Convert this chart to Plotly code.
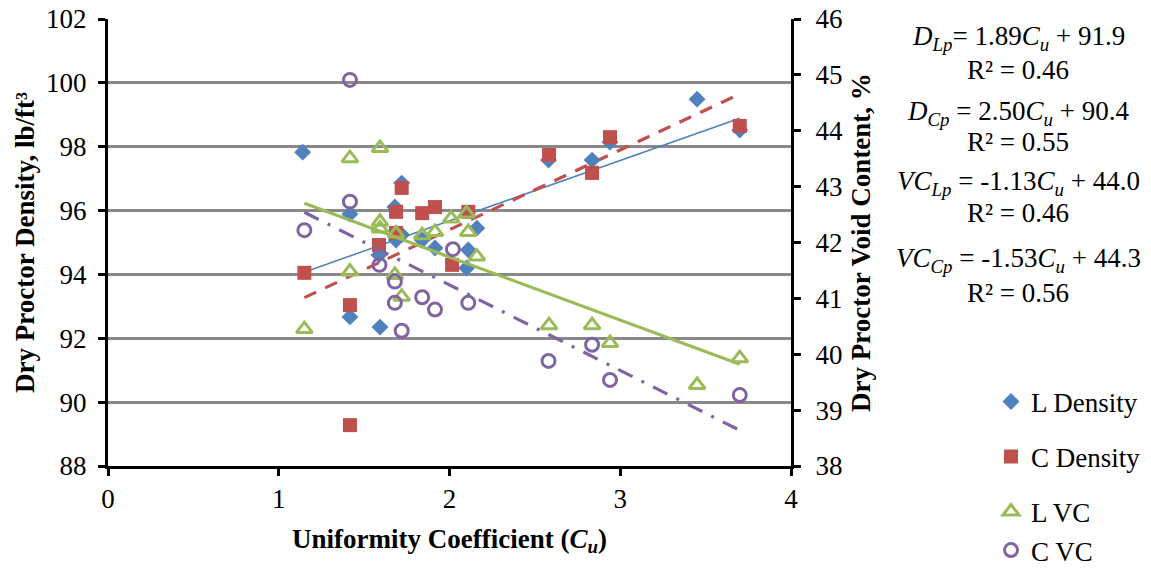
import plotly.graph_objects as go

# ---- data ----
l_den_cu = [1.14, 1.417, 1.417, 1.593, 1.587, 1.68, 1.72, 1.72, 1.687, 1.84, 1.915, 2.11, 2.16, 2.10, 2.58, 2.835, 2.94, 3.45, 3.70]
l_den = [97.83, 95.89, 92.67, 92.35, 94.61, 96.11, 96.86, 95.24, 95.08, 95.08, 94.83, 94.77, 95.45, 94.20, 97.58, 97.58, 98.15, 99.49, 98.52]

c_den_cu = [1.15, 1.417, 1.417, 1.587, 1.687, 1.687, 1.72, 1.84, 1.915, 2.015, 2.11, 2.583, 2.835, 2.94, 3.70]
c_den = [94.05, 93.04, 89.28, 94.92, 95.30, 95.96, 96.71, 95.92, 96.11, 94.30, 95.96, 97.74, 97.18, 98.30, 98.65]

l_vc_cu = [1.15, 1.417, 1.417, 1.593, 1.593, 1.593, 1.687, 1.68, 1.72, 1.84, 1.915, 2.01, 2.10, 2.11, 2.16, 2.583, 2.835, 2.94, 3.45, 3.70]
l_vc = [40.45, 43.51, 41.48, 43.69, 42.37, 42.25, 42.16, 41.42, 41.03, 42.13, 42.19, 42.43, 42.52, 42.19, 41.75, 40.52, 40.52, 40.20, 39.45, 39.93]

c_vc_cu = [1.15, 1.417, 1.417, 1.59, 1.68, 1.68, 1.72, 1.84, 1.915, 2.02, 2.11, 2.58, 2.835, 2.94, 3.70]
c_vc = [42.22, 44.91, 42.73, 41.60, 41.30, 40.92, 40.42, 41.02, 40.80, 41.88, 40.92, 39.88, 40.17, 39.54, 39.27]

# trendline coefficients (as printed on the chart)
fit_names = ["L Density", "C Density", "L VC", "C VC"]
fit_labels = ["<i>D<sub>Lp</sub></i>=", "<i>D<sub>Cp</sub></i> =", "<i>VC<sub>Lp</sub></i> =", "<i>VC<sub>Cp</sub></i> ="]
fit_slope = [1.89, 2.50, -1.13, -1.53]
fit_icept = [91.9, 90.4, 44.0, 44.3]
fit_r2 = [0.46, 0.55, 0.46, 0.56]

FONT = "Liberation Serif, Times New Roman, serif"
BLUE, RED, GREEN, PURPLE = "#4F81BD", "#C0504D", "#9BBB59", "#8064A2"

FW, FH = 1151, 575
L, R, T, B = 108, 791, 19, 466   # plot area in pixels
def fx(x):
    return x / FW
def fy(y):
    return 1 - y / FH

fig = go.Figure()

def trend(cu, k, yaxis, color, width, dash):
    x0, x1 = min(cu), max(cu)
    fig.add_trace(go.Scatter(
        x=[x0, x1], y=[fit_slope[k] * x0 + fit_icept[k], fit_slope[k] * x1 + fit_icept[k]],
        mode="lines", yaxis=yaxis, showlegend=False, hoverinfo="skip",
        line=dict(color=color, width=width, dash=dash)))

# trendlines
trend(l_den_cu, 0, "y", BLUE, 1.5, "solid")
trend(c_den_cu, 1, "y", RED, 3.2, "13px,10px")
trend(l_vc_cu, 2, "y2", GREEN, 3.2, "solid")
trend(c_vc_cu, 3, "y2", PURPLE, 3.2, "16px,10px,3px,10px")

# markers
fig.add_trace(go.Scatter(x=l_den_cu, y=l_den, mode="markers", name="L Density", legend="legend",
                         marker=dict(symbol="diamond", size=13, color=BLUE)))
fig.add_trace(go.Scatter(x=c_den_cu, y=c_den, mode="markers", name="C Density", legend="legend2",
                         marker=dict(symbol="square", size=14, color=RED)))
fig.add_trace(go.Scatter(x=l_vc_cu, y=l_vc, mode="markers", name="L VC", yaxis="y2", legend="legend3",
                         marker=dict(symbol="triangle-up-open", size=14, color=GREEN, line=dict(width=3, color=GREEN))))
fig.add_trace(go.Scatter(x=c_vc_cu, y=c_vc, mode="markers", name="C VC", yaxis="y2", legend="legend4",
                         marker=dict(symbol="circle-open", size=13, color=PURPLE, line=dict(width=3, color=PURPLE))))

axis_common = dict(showline=True, linecolor="black", linewidth=3, ticks="outside",
                   ticklen=7, tickwidth=3, tickcolor="black", zeroline=False, automargin=False,
                   tickfont=dict(family=FONT, size=27, color="black"))

def leg(y, anchor="middle"):
    return dict(x=fx(991), y=fy(y), xanchor="left", yanchor=anchor,
                font=dict(family=FONT, size=27, color="black"),
                bgcolor="rgba(0,0,0,0)", itemwidth=30)

fig.update_layout(
    width=FW, height=FH,
    margin=dict(l=0, r=0, t=0, b=0),
    paper_bgcolor="white", plot_bgcolor="white",
    font=dict(family=FONT, color="black"),
    xaxis=dict(domain=[fx(L), fx(R)], range=[0, 4], dtick=1, showgrid=False, **axis_common,
               title=dict(text="<b>Uniformity Coefficient (<i>C<sub>u</sub></i>)</b>",
                          font=dict(family=FONT, size=27), standoff=16)),
    yaxis=dict(domain=[fy(B), fy(T)], range=[88, 102], dtick=2, showgrid=True,
               gridcolor="#898989", gridwidth=2.5, ticklabelstandoff=6, **axis_common,
               title=dict(text="<b>Dry Proctor Density, lb/ft³</b>", font=dict(family=FONT, size=27), standoff=4)),
    yaxis2=dict(range=[38, 46], dtick=1, overlaying="y", side="right", anchor="x", showgrid=False,
                ticklabelstandoff=9, **axis_common,
                title=dict(text="<b>Dry Proctor Void Content, %</b>", font=dict(family=FONT, size=27), standoff=10)),
    legend=leg(402), legend2=leg(457), legend3=leg(512), legend4=leg(575, "bottom"),
    showlegend=True,
)

eq_y = [38, 113, 183, 260]
r2_y = [70, 142, 213, 293]
for k in range(4):
    fig.add_annotation(
        xref="paper", yref="paper", x=fx(1018), y=fy(eq_y[k]),
        text="{} {:.2f}<i>C<sub>u</sub></i> + {:.1f}".format(fit_labels[k], fit_slope[k], fit_icept[k]),
        showarrow=False, xanchor="center", yanchor="middle",
        font=dict(family=FONT, size=27, color="black"))
    fig.add_annotation(
        xref="paper", yref="paper", x=fx(1018), y=fy(r2_y[k]),
        text="R² = {:.2f}".format(fit_r2[k]),
        showarrow=False, xanchor="center", yanchor="middle",
        font=dict(family=FONT, size=27, color="black"))

fig.write_html("out.html")
